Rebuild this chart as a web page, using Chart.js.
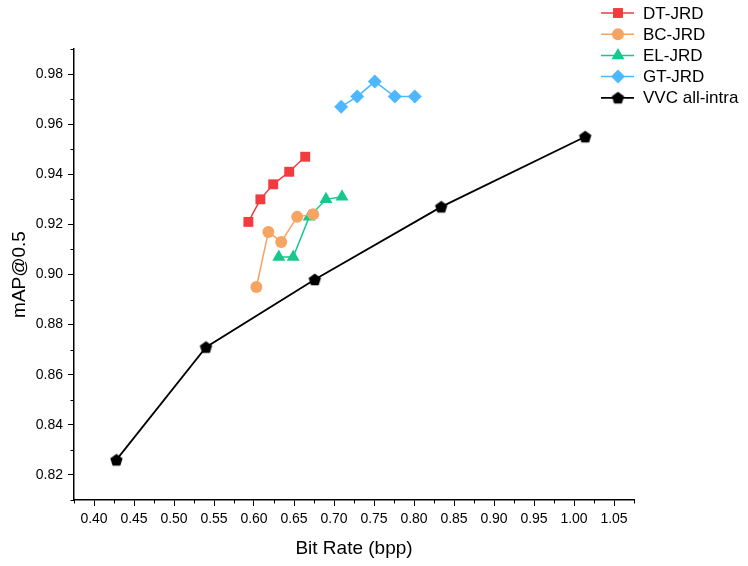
<!DOCTYPE html>
<html>
<head>
<meta charset="utf-8">
<script src="https://cdn.jsdelivr.net/npm/chart.js@4.4.1/dist/chart.umd.min.js"></script>
<style>
html, body { margin: 0; padding: 0; background: #fff; }
</style>
</head>
<body>
<canvas id="mycanvas" width="748" height="566"></canvas>
<script>
// values
var seriesNames = ['DT-JRD', 'BC-JRD', 'EL-JRD', 'GT-JRD', 'VVC all-intra'];

var dtRate = [0.593, 0.608, 0.624, 0.644, 0.664];
var dtMap  = [0.921, 0.930, 0.936, 0.941, 0.947];

var bcRate = [0.603, 0.618, 0.634, 0.654, 0.674];
var bcMap  = [0.895, 0.917, 0.913, 0.923, 0.924];

var elRate = [0.631, 0.649, 0.669, 0.690, 0.710];
var elMap  = [0.907, 0.907, 0.923, 0.930, 0.931];

var gtRate = [0.709, 0.729, 0.751, 0.776, 0.801];
var gtMap  = [0.967, 0.971, 0.977, 0.971, 0.971];

var vvcRate = [0.428, 0.540, 0.676, 0.834, 1.014];
var vvcMap  = [0.826, 0.871, 0.898, 0.927, 0.955];

var xTicks = [0.40, 0.45, 0.50, 0.55, 0.60, 0.65, 0.70, 0.75, 0.80, 0.85, 0.90, 0.95, 1.00, 1.05];
var yTicks = [0.82, 0.84, 0.86, 0.88, 0.90, 0.92, 0.94, 0.96, 0.98];

function toPoints(xs, ys) {
  var out = [];
  for (var i = 0; i < xs.length; i++) out.push({x: xs[i], y: ys[i]});
  return out;
}

// pentagon marker (Chart.js has no pentagon style)
function pentagon(r, color) {
  var c = document.createElement('canvas');
  var s = Math.ceil(r * 2 + 2);
  c.width = s; c.height = s;
  var g = c.getContext('2d');
  g.fillStyle = color;
  g.beginPath();
  for (var k = 0; k < 5; k++) {
    var a = -Math.PI / 2 + k * 2 * Math.PI / 5;
    var px = s / 2 + r * Math.cos(a), py = s / 2 + r * Math.sin(a) + 0.6;
    if (k === 0) g.moveTo(px, py); else g.lineTo(px, py);
  }
  g.closePath();
  g.fill();
  return c;
}

var colors = ['#f23b3e', '#f5a462', '#14c98b', '#4db8ff', '#000000'];
var styles = ['rect', 'circle', 'triangle', 'rectRot', pentagon(6.5, '#000')];
var radii = [7, 6, 7.5, 7, 6];
var allX = [dtRate, bcRate, elRate, gtRate, vvcRate];
var allY = [dtMap, bcMap, elMap, gtMap, vvcMap];

var datasets = [];
for (var i = 0; i < seriesNames.length; i++) {
  datasets.push({
    label: seriesNames[i],
    data: toPoints(allX[i], allY[i]),
    borderColor: colors[i],
    backgroundColor: colors[i],
    borderWidth: i === 4 ? 1.8 : 1.5,
    pointStyle: styles[i],
    pointRadius: radii[i],
    pointHoverRadius: radii[i],
    pointBorderWidth: 0,
    showLine: true,
    fill: false,
    tension: 0
  });
}

var minorTicks = {
  id: 'minorTicks',
  afterDraw: function(chart) {
    var ctx = chart.ctx, xs = chart.scales.x, ys = chart.scales.y;
    ctx.save();
    ctx.strokeStyle = '#000';
    ctx.lineWidth = 1;
    ctx.beginPath();
    for (var k = 0; k <= 14; k++) {
      var px = Math.round(xs.getPixelForValue(0.375 + k * 0.05)) + 0.5;
      ctx.moveTo(px, ys.bottom);
      ctx.lineTo(px, ys.bottom + 3.5);
    }
    for (var m = 0; m <= 9; m++) {
      var py = Math.round(ys.getPixelForValue(0.81 + m * 0.02)) + 0.5;
      ctx.moveTo(xs.left, py);
      ctx.lineTo(xs.left - 3.5, py);
    }
    ctx.stroke();
    ctx.restore();
  }
};

var legendBox = {
  id: 'legendBox',
  afterDraw: function(chart) {
    var ctx = chart.ctx;
    ctx.save();
    ctx.font = '17px "Liberation Sans", Arial, sans-serif';
    ctx.textBaseline = 'middle';
    ctx.textAlign = 'left';
    for (var k = 0; k < datasets.length; k++) {
      var d = datasets[k];
      var y = 13 + k * 21.2;
      ctx.strokeStyle = d.borderColor;
      ctx.lineWidth = d.borderWidth;
      ctx.beginPath();
      ctx.moveTo(601, y);
      ctx.lineTo(634, y);
      ctx.stroke();
      ctx.fillStyle = d.backgroundColor;
      Chart.helpers.drawPoint(ctx, {
        pointStyle: d.pointStyle, radius: d.pointRadius, rotation: 0, borderWidth: 0
      }, 618, y);
      ctx.fillStyle = '#000';
      ctx.fillText(d.label, 643, y + 1);
    }
    ctx.restore();
  }
};

var tickFont = { family: '"Liberation Sans", Arial, sans-serif', size: 14 };
var titleFont = { family: '"Liberation Sans", Arial, sans-serif', size: 19 };

var ctx = document.getElementById('mycanvas');
var LineGraph = new Chart(ctx, {
  type: 'scatter',
  data: { datasets: datasets },
  plugins: [minorTicks, legendBox],
  options: {
    responsive: false,
    devicePixelRatio: 1,
    animation: false,
    layout: { padding: { left: 0, top: 49, right: 114, bottom: 0 } },
    plugins: {
      legend: { display: false },
      tooltip: { enabled: false }
    },
    scales: {
      x: {
        type: 'linear',
        min: 0.375,
        max: 1.075,
        afterFit: function(s) { s.height = 66; },
        afterBuildTicks: function(s) { s.ticks = xTicks.map(function(v) { return {value: v}; }); },
        border: { display: true, color: '#000', width: 1.5 },
        grid: { drawOnChartArea: false, drawTicks: true, tickLength: 6, color: '#000', lineWidth: 1 },
        ticks: {
          color: '#000', font: tickFont, padding: 5, maxRotation: 0, autoSkip: false,
          callback: function(v) { return Number(v).toFixed(2); }
        },
        title: { display: true, text: 'Bit Rate (bpp)', color: '#000', font: titleFont, padding: { top: 0, bottom: 6 } }
      },
      y: {
        type: 'linear',
        min: 0.81,
        max: 0.99,
        afterFit: function(s) { s.width = 74; },
        afterBuildTicks: function(s) { s.ticks = yTicks.map(function(v) { return {value: v}; }); },
        border: { display: true, color: '#000', width: 1.5 },
        grid: { drawOnChartArea: false, drawTicks: true, tickLength: 6, color: '#000', lineWidth: 1 },
        ticks: {
          color: '#000', font: tickFont, padding: 5, autoSkip: false,
          callback: function(v) { return Number(v).toFixed(2); }
        },
        title: { display: true, text: 'mAP@0.5', color: '#000', font: titleFont, padding: { top: 8, bottom: 0 } }
      }
    }
  }
});
</script>
</body>
</html>
